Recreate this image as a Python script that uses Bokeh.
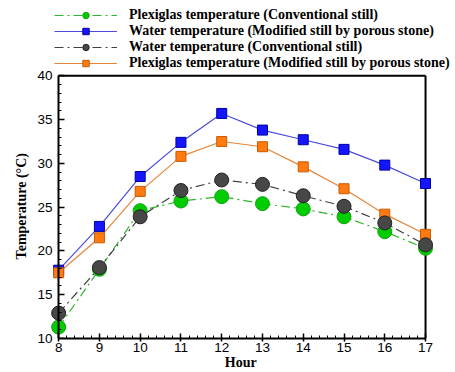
from bokeh.plotting import figure
from bokeh.models import Legend, LegendItem, Range1d, FixedTicker, LinearAxis
from bokeh.embed import file_html
from bokeh.resources import INLINE

hours = [8, 9, 10, 11, 12, 13, 14, 15, 16, 17]
plexi_conv = [11.3, 17.9, 24.6, 25.7, 26.2, 25.4, 24.8, 23.9, 22.2, 20.3]
water_mod = [17.8, 22.8, 28.5, 32.4, 35.7, 33.8, 32.7, 31.6, 29.8, 27.7]
water_conv = [12.9, 18.1, 23.9, 26.9, 28.1, 27.6, 26.3, 25.1, 23.2, 20.7]
plexi_mod = [17.5, 21.5, 26.8, 30.8, 32.5, 31.9, 29.6, 27.1, 24.2, 21.9]
y_ticks = [10, 15, 20, 25, 30, 35, 40]
labels = [
    "Plexiglas temperature (Conventional still)",
    "Water temperature (Modified still by porous stone)",
    "Water temperature (Conventional still)",
    "Plexiglas temperature (Modified still by porous stone)",
]

SERIF = "Liberation Serif"
SANS = "Liberation Sans"

x_lo, x_hi = hours[0], hours[-1]
y_lo, y_hi = y_ticks[0], y_ticks[-1]
x_pad_left = 0.2     # room so edge markers are not cut
x_pad_right = 0.735  # room on the right for the legend texts
y_top_room = 8.6     # room above the plot box for the legend

p = figure(width=455, height=372, output_backend="svg", toolbar_location=None,
           x_range=Range1d(x_lo - x_pad_left, x_hi + x_pad_right),
           y_range=Range1d(y_lo, y_hi + y_top_room),
           min_border_left=50, min_border_right=0, min_border_top=0, min_border_bottom=31)
p.background_fill_color = "white"
p.border_fill_color = "white"
p.outline_line_color = None
p.xgrid.visible = False
p.ygrid.visible = False

# plot box top and right borders (left/bottom are axes)
p.segment(x0=[x_lo, x_hi], y0=[y_hi, y_lo], x1=[x_hi, x_hi], y1=[y_hi, y_hi],
          line_color="black", line_width=2)

# series
r1l = p.line(hours, plexi_conv, line_color="#2fb52f", line_width=1.2, line_dash="9 4 2 4")
r2l = p.line(hours, water_mod, line_color="#4c4cd8", line_width=1.2)
r3l = p.line(hours, water_conv, line_color="#404040", line_width=1.2, line_dash="9 4 2 4")
r4l = p.line(hours, plexi_mod, line_color="#e3863a", line_width=1.2)
r1m = p.scatter(hours, plexi_conv, marker="circle", size=14, fill_color="#00cc00", line_color="#14a014", line_width=1)
r2m = p.scatter(hours, water_mod, marker="square", size=10, fill_color="#1414ff", line_color="#0000a0", line_width=1)
r4m = p.scatter(hours, plexi_mod, marker="square", size=10, fill_color="#ff7a10", line_color="#c85a00", line_width=1)
r3m = p.scatter(hours, water_conv, marker="circle", size=14, fill_color="#474747", line_color="#222222", line_width=1)

legend = Legend(items=[
    LegendItem(label=labels[0], renderers=[r1l, r1m]),
    LegendItem(label=labels[1], renderers=[r2l, r2m]),
    LegendItem(label=labels[2], renderers=[r3l, r3m]),
    LegendItem(label=labels[3], renderers=[r4l, r4m]),
], location=(4, 267))
legend.border_line_color = None
legend.background_fill_alpha = 0
legend.padding = 0
legend.margin = 0
legend.spacing = 0
legend.glyph_width = 63
legend.glyph_height = 16
legend.label_height = 16
legend.label_standoff = 12
legend.label_text_font = SERIF
legend.label_text_font_style = "bold"
legend.label_text_font_size = "14px"
legend.label_text_color = "black"
p.add_layout(legend)

y_tick_ticker = FixedTicker(ticks=y_ticks, minor_ticks=list(range(y_lo, y_hi + 1)))

# x axis
xa = p.xaxis[0]
xa.bounds = (x_lo, x_hi)
xa.ticker = FixedTicker(ticks=hours, minor_ticks=[h + k * 0.2 for h in hours[:-1] for k in range(1, 5)])
xa.axis_line_width = 2
xa.axis_line_color = "black"
xa.major_tick_line_color = "black"
xa.minor_tick_line_color = "black"
xa.major_tick_line_width = 1.5
xa.minor_tick_line_width = 1
xa.major_tick_in = 5
xa.major_tick_out = 3
xa.minor_tick_in = 3
xa.minor_tick_out = 0
xa.major_label_text_font = SANS
xa.major_label_text_font_size = "13.5px"
xa.major_label_text_color = "black"
xa.major_label_standoff = 1
# trailing non-breaking spaces keep the title centred under the 8-17 box, not the wider frame
xa.axis_label = "Hour" + "\u00a0" * 7
xa.axis_label_text_font = SERIF
xa.axis_label_text_font_style = "bold"
xa.axis_label_text_font_size = "14px"
xa.axis_label_text_color = "black"
xa.axis_label_standoff = 0

# y axis: labels and title (at the frame edge; line and ticks hidden)
ya = p.yaxis[0]
ya.bounds = (y_lo, y_hi)
ya.ticker = y_tick_ticker
ya.axis_line_color = None
ya.major_tick_line_color = None
ya.minor_tick_line_color = None
ya.major_tick_in = 0
ya.major_tick_out = 0
ya.minor_tick_out = 0
ya.major_label_standoff = -2
ya.major_label_text_font = SANS
ya.major_label_text_font_size = "13.5px"
ya.major_label_text_color = "black"
# non-breaking spaces keep the title centred on the 10-40 box, not on the taller frame
ya.axis_label = "Temperature (°C)" + "\u00a0" * 21
ya.axis_label_text_font = SERIF
ya.axis_label_text_font_style = "bold"
ya.axis_label_text_font_size = "14px"
ya.axis_label_text_color = "black"
ya.axis_label_standoff = 5

# y axis: line and inward ticks drawn at x = 8
yb = LinearAxis(ticker=y_tick_ticker, bounds=(y_lo, y_hi), fixed_location=x_lo)
yb.axis_line_width = 2
yb.axis_line_color = "black"
yb.major_tick_line_color = "black"
yb.minor_tick_line_color = "black"
yb.major_tick_line_width = 1.5
yb.minor_tick_line_width = 1
yb.major_tick_in = 6
yb.major_tick_out = 0
yb.minor_tick_in = 3
yb.minor_tick_out = 0
yb.major_label_text_font_size = "1px"
yb.major_label_text_color = None
yb.major_label_standoff = 0
p.add_layout(yb, "left")

open("out.html", "w").write(file_html(p, INLINE))
